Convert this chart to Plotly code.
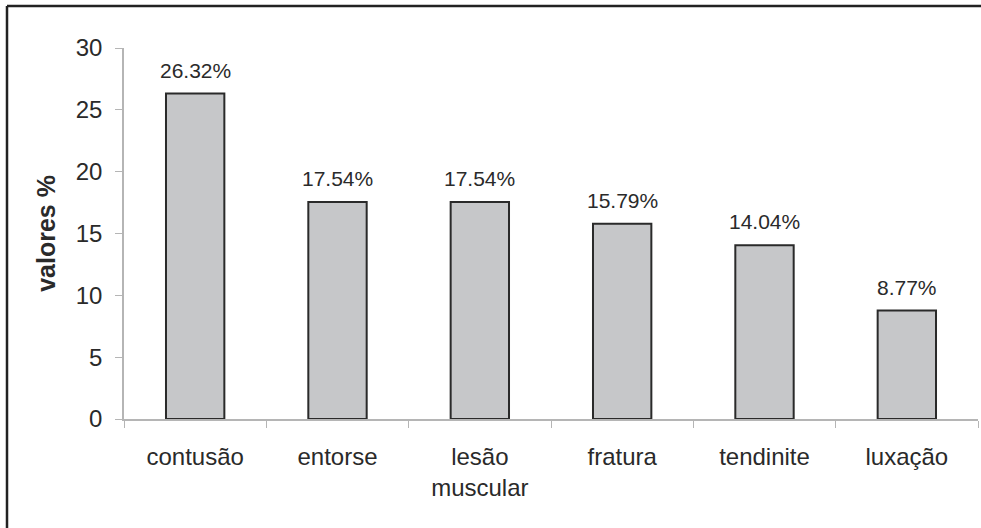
import plotly.graph_objects as go

categories = ["contusão", "entorse", "lesão<br>muscular", "fratura", "tendinite", "luxação"]
values = [26.32, 17.54, 17.54, 15.79, 14.04, 8.77]
y_ticks = [0, 5, 10, 15, 20, 25, 30]

W, H = 981, 528
L, R, T, B = 124, 3, 48, 109
pw, ph = W - L - R, H - T - B
FONT = "Liberation Sans, Arial"
INK = "#2a2a2a"

fig = go.Figure(
    go.Bar(
        x=categories,
        y=values,
        width=0.41,
        marker=dict(color="#c6c7c9", line=dict(color=INK, width=2)),
        hoverinfo="x+y",
    )
)

# percentage labels above each bar
for c, v in zip(categories, values):
    fig.add_annotation(
        x=c, y=v, text=f"{v:.2f}%", showarrow=False,
        yanchor="bottom", yshift=10,
        font=dict(family=FONT, size=21, color=INK),
    )

fig.update_layout(
    width=W,
    height=H,
    margin=dict(l=L, r=R, t=T, b=B),
    paper_bgcolor="white",
    plot_bgcolor="white",
    showlegend=False,
    font=dict(family=FONT, color=INK),
    xaxis=dict(
        showline=True,
        linecolor="#b5b5b5",
        linewidth=1.5,
        ticks="outside",
        tickson="boundaries",
        ticklen=7,
        tickcolor="#b5b5b5",
        tickfont=dict(size=24),
        ticklabelstandoff=15,
        showgrid=False,
        zeroline=False,
    ),
    yaxis=dict(
        range=[0, 30],
        tickvals=y_ticks,
        showline=True,
        linecolor="#b5b5b5",
        linewidth=1.5,
        ticks="outside",
        ticklen=7,
        tickcolor="#b5b5b5",
        tickfont=dict(size=24),
        ticklabelstandoff=8,
        showgrid=False,
        zeroline=False,
        title=dict(text="<b>valores %</b>", font=dict(size=25), standoff=13),
    ),
)

# frame around the figure (top and left edges visible)
fig.add_shape(type="line", xref="paper", yref="paper",
              x0=(7 - L) / pw, x1=(W - L + 5) / pw,
              y0=(H - B - 6) / ph, y1=(H - B - 6) / ph,
              line=dict(color="#222222", width=2.5))
fig.add_shape(type="line", xref="paper", yref="paper",
              x0=(7 - L) / pw, x1=(7 - L) / pw,
              y0=(H - B - 6) / ph, y1=-(B + 5) / ph,
              line=dict(color="#222222", width=2.5))

fig.write_html("out.html")
